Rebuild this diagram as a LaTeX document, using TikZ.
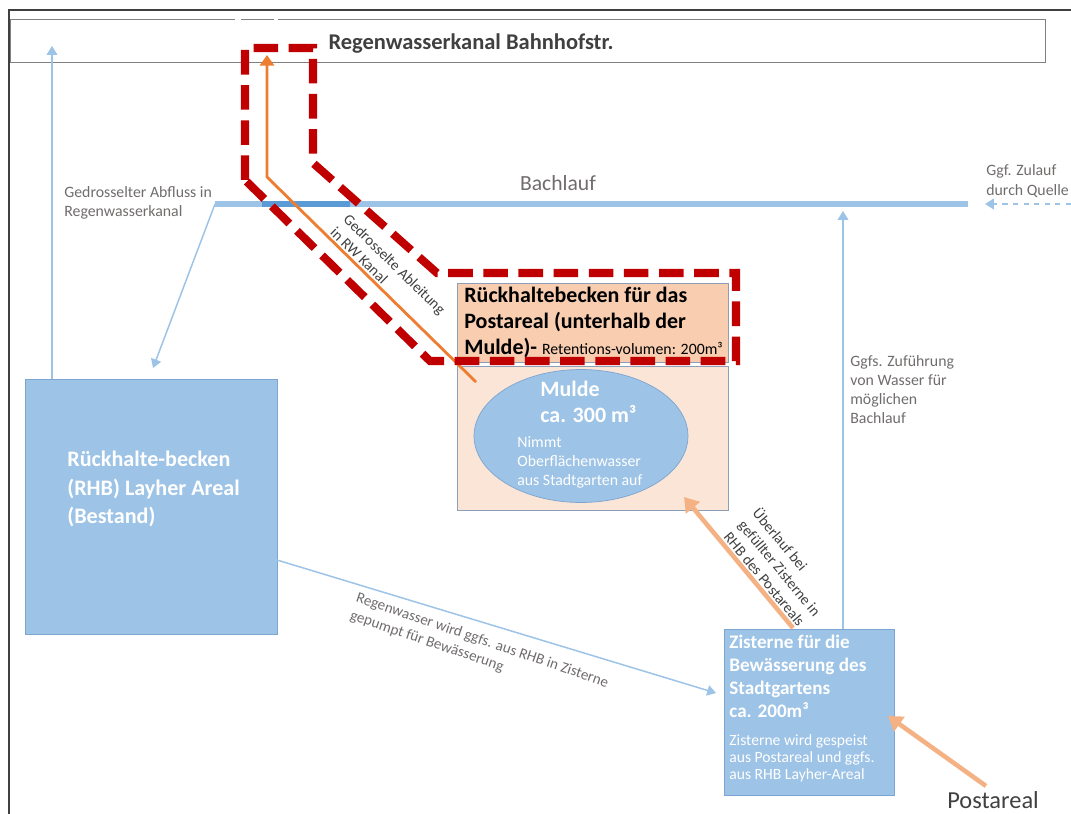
\documentclass[tikz,border=0pt]{standalone}
\usepackage{fontspec}
\setmainfont{Carlito}
\usetikzlibrary{arrows.meta, positioning, calc, shapes.geometric}
\definecolor{waterblue}{RGB}{157,195,230}
\definecolor{waterdark}{RGB}{91,155,213}
\definecolor{blueedge}{RGB}{125,165,210}
\definecolor{boxedge}{RGB}{140,158,185}
\definecolor{peachtop}{RGB}{248,205,176}
\definecolor{peachlow}{RGB}{251,229,214}
\definecolor{dashred}{RGB}{192,0,0}
\definecolor{pipeorange}{RGB}{237,125,49}
\definecolor{flowpeach}{RGB}{244,177,131}
\definecolor{labelgray}{RGB}{112,108,108}
\definecolor{darktext}{RGB}{64,64,64}
\tikzstyle{basin} = [rectangle, draw=blueedge, fill=waterblue, inner sep=0pt, anchor=north west]
\tikzstyle{peachbox} = [rectangle, draw=boxedge, inner sep=0pt, anchor=north west]
\tikzstyle{bigwhite} = [text=white, align=left, inner sep=0pt, anchor=north west, font=\fontsize{12.6pt}{16pt}\selectfont\bfseries]
\tikzstyle{smallwhite} = [text=white, align=left, inner sep=0pt, anchor=north west, font=\fontsize{9pt}{10.8pt}\selectfont]
\tikzstyle{note} = [text=labelgray, align=left, inner sep=0pt, anchor=north west, font=\fontsize{9pt}{10.8pt}\selectfont]
\tikzstyle{slopenote} = [text=darktext, align=left, sloped, inner sep=1pt, font=\fontsize{8.6pt}{10.6pt}\selectfont]
\tikzstyle{flow} = [line width=0.85pt, waterblue, -{Triangle[length=5pt,width=6pt]}]
\tikzstyle{overflow} = [line width=2.6pt, flowpeach, -{Triangle[length=8pt,width=10pt]}]
\tikzstyle{pipe} = [line width=1.6pt, pipeorange, -{Triangle[length=6pt,width=8pt]}]
\tikzstyle{bachline} = [line width=3.9pt, waterblue]
\tikzstyle{redzone} = [line width=4.6pt, dashred, dash pattern=on 14pt off 6pt, line join=miter]

\begin{document}
\begin{tikzpicture}[x=0.02cm, y=-0.02cm]
\useasboundingbox (0,0) rectangle (1071,814);

% Frame
\draw[darktext, line width=0.6pt] (1071,10) -- (9,10) -- (9,814);

% Regenwasserkanal
\node[rectangle, draw=gray, line width=0.6pt, inner sep=0pt, anchor=north west, minimum width=20.7cm, minimum height=0.86cm] (kanal) at (10,19) {};
\draw[white, line width=1.5pt] (235,19) -- (241,19) (274,19) -- (278,19);
\node[text=darktext, font=\fontsize{12.8pt}{15pt}\selectfont\bfseries] (kanaltext) at (471,44) {Regenwasserkanal Bahnhofstr.};

% Bachlauf
\coordinate (bachW) at (215,204);
\coordinate (bachE) at (968,204);
\coordinate (quelle) at (1071,204);
\coordinate (zulaufEnd) at (985,204);
\draw[bachline] (bachW) -- (bachE);
\draw[line width=3.9pt, waterdark] (262,204) -- (350,204);
\node[text=labelgray, font=\fontsize{12.3pt}{14pt}\selectfont] (bachtext) at (558,183) {Bachlauf};
\draw[flow, dashed] (quelle) -- (zulaufEnd);
\node[note, font=\fontsize{9pt}{11.4pt}\selectfont] (zulauf) at (986,164) {Ggf. Zulauf\\durch Quelle};
\node[note] (abfluss) at (64,186) {Gedrosselter Abfluss in\\Regenwasserkanal};

% RHB Layher Areal
\node[basin, minimum width=5.04cm, minimum height=5.1cm] (rhb) at (25,379) {};
\node[bigwhite] (rhbtext) at (67,451) {R\"uckhalte-becken\\(RHB) Layher Areal\\(Bestand)};

% Postareal / Mulde
\node[peachbox, fill=peachtop, minimum width=5.42cm, minimum height=1.58cm] (postbox) at (457,283) {};
\node[peachbox, fill=peachlow, minimum width=5.42cm, minimum height=2.88cm] (muldebox) at (457,366) {};
\node[ellipse, draw=blueedge, fill=waterblue, minimum width=4.28cm, minimum height=2.66cm, inner sep=0pt] (mulde) at (581,436) {};
\node[bigwhite, font=\fontsize{12.5pt}{14.8pt}\selectfont\bfseries] (muldetext) at (540,381) {Mulde\\ca. 300 m³};
\node[smallwhite] (muldenote) at (517,436) {Nimmt\\Oberfl\"achenwasser\\aus Stadtgarten auf};
\node[align=left, inner sep=0pt, anchor=north west, font=\fontsize{12.5pt}{14.8pt}\selectfont\bfseries] (posttext) at (464,287) {R\"uckhaltebecken f\"ur das\\Postareal (unterhalb der\\Mulde)- {\mdseries\fontsize{9pt}{10pt}\selectfont Retentions-volumen: 200m³}};

% Zisterne
\node[basin, minimum width=3.4cm, minimum height=3.32cm] (zisterne) at (724,629) {};
\node[bigwhite, font=\fontsize{10.9pt}{13pt}\selectfont\bfseries] (zistext) at (729,635) {Zisterne f\"ur die\\Bew\"asserung des\\Stadtgartens\\ca. 200m³};
\node[smallwhite, font=\fontsize{8.9pt}{9.7pt}\selectfont] (zisnote) at (729,734) {Zisterne wird gespeist\\aus Postareal und ggfs.\\aus RHB Layher-Areal};
\node[text=darktext, font=\fontsize{13.9pt}{16pt}\selectfont] (post) at (993,800) {Postareal};

% Blue arrows
\coordinate (kanalL) at (52,46);
\coordinate (rhbIn) at (153,368);
\coordinate (rhbOut) at (277,560);
\coordinate (zisIn) at (716,693);
\coordinate (zufTop) at (843,211);
\draw[flow] (rhb.north -| kanalL) -- (kanalL);
\draw[flow] (bachW) -- (rhbIn);
\draw[flow] (rhbOut) -- node[slopenote, text=labelgray, below=5pt, rotate=-2, pos=0.48] {Regenwasser wird ggfs. aus RHB in Zisterne\\gepumpt f\"ur Bew\"asserung} (zisIn);
\draw[flow] (zisterne.north -| zufTop) -- (zufTop);
\node[note] (zufuehrung) at (850,355) {Ggfs. Zuf\"uhrung\\von Wasser f\"ur\\m\"oglichen\\Bachlauf};

% Orange arrows
\coordinate (ueberStart) at (793,628);
\coordinate (ueberEnd) at (684,497);
\coordinate (postStart) at (986,786);
\coordinate (postEnd) at (888,716);
\draw[overflow] (ueberStart) -- node[slopenote, above, pos=0.32] {\"Uberlauf bei\\gef\"ullter Zisterne in\\RHB des Postareals} (ueberEnd);
\draw[overflow] (postStart) -- (postEnd);

% Gedrosselte Ableitung
\coordinate (rwStart) at (476,382);
\coordinate (rwBend) at (267,177);
\coordinate (rwEnd) at (267,55);
\draw[pipe] (rwStart) -- node[slopenote, above, pos=0.48] {Gedrosselte Ableitung\\in RW Kanal} (rwBend) -- (rwEnd);

% Red zone
\draw[redzone] (245,180) -- (245,48) -- (313,48) -- (313,163) -- (437,273) -- (736,273) -- (736,361) -- (430,361) -- cycle;

\end{tikzpicture}
\end{document}
